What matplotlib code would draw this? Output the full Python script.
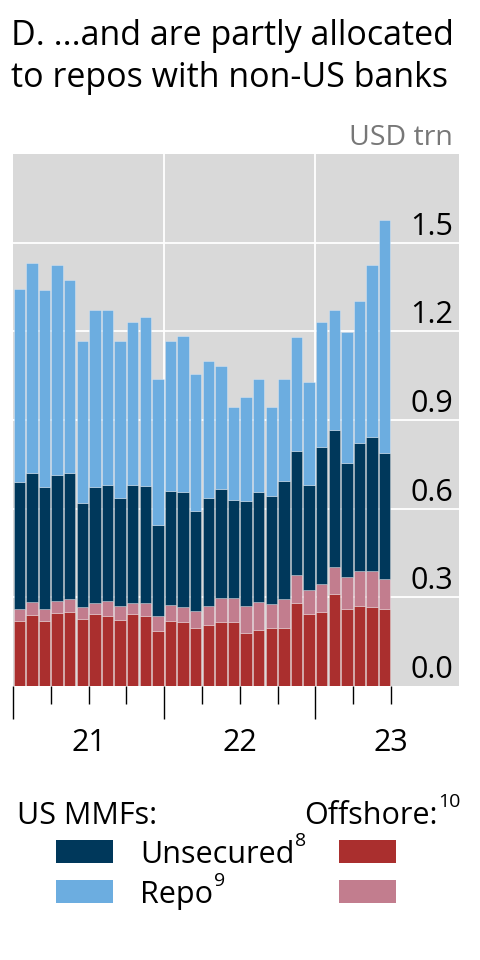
import numpy as np
import matplotlib
matplotlib.use("Agg")
import matplotlib.pyplot as plt
import matplotlib.transforms as mtrans
from matplotlib.patches import Rectangle

plt.rcParams['font.family'] = ['Open Sans', 'DejaVu Sans']

# monthly, Jan 2021 .. Jun 2023, USD trn
off_unsec = [0.220, 0.240, 0.221, 0.248, 0.252, 0.226, 0.242, 0.238, 0.224, 0.245, 0.236, 0.187,
             0.221, 0.215, 0.196, 0.208, 0.218, 0.215, 0.179, 0.190, 0.196, 0.196, 0.282, 0.242,
             0.252, 0.312, 0.262, 0.270, 0.268, 0.262]
off_repo = [0.040, 0.044, 0.040, 0.038, 0.042, 0.040, 0.039, 0.050, 0.047, 0.035, 0.044, 0.050,
            0.053, 0.053, 0.057, 0.063, 0.081, 0.082, 0.092, 0.093, 0.082, 0.097, 0.094, 0.084,
            0.093, 0.091, 0.107, 0.118, 0.121, 0.101]
us_unsec = [0.429, 0.435, 0.414, 0.429, 0.425, 0.352, 0.392, 0.392, 0.365, 0.400, 0.396, 0.307,
            0.386, 0.389, 0.338, 0.365, 0.366, 0.332, 0.355, 0.374, 0.365, 0.400, 0.418, 0.353,
            0.463, 0.462, 0.387, 0.435, 0.454, 0.425]
us_repo = [0.653, 0.711, 0.664, 0.709, 0.655, 0.550, 0.599, 0.591, 0.530, 0.551, 0.572, 0.496,
           0.506, 0.527, 0.463, 0.464, 0.418, 0.314, 0.352, 0.382, 0.301, 0.346, 0.387, 0.348,
           0.424, 0.408, 0.442, 0.481, 0.581, 0.790]
years = ["21", "22", "23"]
yticks = [0.0, 0.3, 0.6, 0.9, 1.2, 1.5]

navy = "#00385b"
lblue = "#6cade0"
red = "#aa2f2e"
pink = "#c27d8e"
bg = "#d9d9d9"

W, H = 480, 960
fig = plt.figure(figsize=(4.8, 9.6), dpi=100)
ax = fig.add_axes([13 / W, 1 - 686 / H, 446 / W, 532 / H])
ax.set_facecolor(bg)
for s in ax.spines.values():
    s.set_visible(False)

n = len(us_repo)
x = np.arange(n) + 0.5
bottom = np.zeros(n)
for vals, col in [(off_unsec, red), (off_repo, pink), (us_unsec, navy), (us_repo, lblue)]:
    ax.bar(x, vals, width=0.9, bottom=bottom, color=col,
           edgecolor=(1, 1, 1, 0.35), linewidth=0.6, zorder=3)
    bottom += np.array(vals)

ax.set_xlim(0, 446 / 12.6)
ax.set_ylim(0, 1.8)

for v in yticks[1:]:
    ax.axhline(v, color="white", lw=1.3, zorder=1)
for v in [12, 24]:
    ax.axvline(v, color="white", lw=1.3, zorder=1)

ax.set_yticks([])
ax.set_xticks([0, 12, 24])
ax.set_xticks([3, 6, 9, 15, 18, 21, 27, 30], minor=True)
ax.tick_params(axis="x", which="major", length=24, width=1.0, color="black", labelbottom=False)
ax.tick_params(axis="x", which="minor", length=13, width=1.0, color="black")

# y labels inside, right, above the gridlines
tr = mtrans.offset_copy(ax.get_yaxis_transform(), fig=fig, x=0, y=8, units="dots")
for v in yticks:
    ax.text((453 - 13) / 446, v, f"{v:.1f}", transform=tr, ha="right", va="baseline",
            fontsize=22, color="black", zorder=5)

xtr = mtrans.blended_transform_factory(ax.transData, ax.transAxes)
for i, lab in enumerate(years):
    ax.text(6 + 12 * i, -57 / 532, lab, transform=xtr, ha="center", va="center",
            fontsize=22, color="black")

fig.text(11 / W, 1 - 45 / H, "D. ...and are partly allocated", fontsize=24.5, va="baseline", ha="left")
fig.text(11 / W, 1 - 87 / H, "to repos with non-US banks", fontsize=24.5, va="baseline", ha="left")
fig.text(453 / W, 1 - 145 / H, "USD trn", fontsize=20.5, va="baseline", ha="right", color="#777777")

# legend
fig.canvas.draw()
rend = fig.canvas.get_renderer()


def label(xp, yp, s, sup=None, size=22):
    t = fig.text(xp / W, 1 - yp / H, s, fontsize=size, va="baseline", ha="left")
    if sup:
        bb = t.get_window_extent(rend)
        fig.text((bb.x1 + 1) / W, 1 - (yp - 17) / H, sup, fontsize=14, va="baseline", ha="left")


label(17, 824, "US MMFs:")
label(304, 824, "Offshore:", "10")
label(140, 863, "Unsecured", "8")
label(140, 903, "Repo", "9")

for (x0, y0, col) in [(56, 840, navy), (56, 880, lblue), (339, 840, red), (339, 880, pink)]:
    fig.patches.append(Rectangle((x0 / W, 1 - (y0 + 23) / H), 57 / W, 23 / H,
                                 transform=fig.transFigure, facecolor=col, edgecolor="none"))

fig.savefig("out.png", dpi=100)
